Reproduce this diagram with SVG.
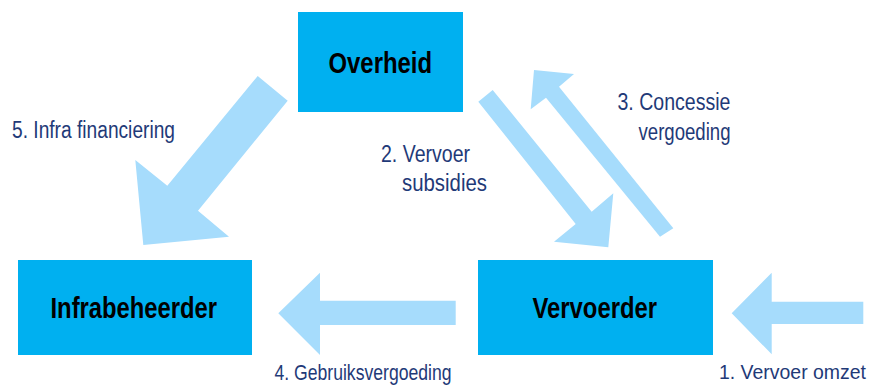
<svg xmlns="http://www.w3.org/2000/svg" width="872" height="385" viewBox="0 0 872 385">
<style>
.box{fill:#00B0F0}
.name{font-family:"Liberation Sans Narrow","Liberation Sans",Arial,sans-serif;font-weight:bold;font-size:29px;fill:#000}
.lbl{font-family:"Liberation Sans Narrow","Liberation Sans",Arial,sans-serif;font-size:23px;fill:#1F3A78}
.low{font-size:22px}
.arr{fill:#A6DCFC}
</style>
<rect width="872" height="385" fill="#fff"/>
<g id="connectors">
<polygon class="arr" points="257.7,76 287.7,100.7 198,210.7 229,236.7 143.3,245 135.3,160 167.3,185.7"/>
<polygon class="arr" points="478.3,101.7 492.7,90 591.7,211.7 613.3,193.3 608.3,247.3 554,241.7 575.7,224"/>
<polygon class="arr" points="673.3,228.3 660,236.7 546,97.7 530.7,109.3 534,70 574,74 559,86.7"/>
<polygon class="arr" points="278.3,313.3 320,272.7 320,300.7 455.7,300.7 455.7,325 320,325 320,355"/>
<polygon class="arr" points="731.7,313.3 771.7,272.7 771.7,301.7 863.3,301.7 863.3,324 771.7,324 771.7,354.3"/>
<text class="lbl" x="12" y="138" textLength="163" lengthAdjust="spacingAndGlyphs">5. Infra financiering</text>
<text class="lbl" x="381" y="161.5" textLength="89" lengthAdjust="spacingAndGlyphs">2. Vervoer</text>
<text class="lbl" x="402" y="191" textLength="85" lengthAdjust="spacingAndGlyphs">subsidies</text>
<text class="lbl" x="617.5" y="110" textLength="113" lengthAdjust="spacingAndGlyphs">3. Concessie</text>
<text class="lbl" x="638.5" y="140" textLength="92" lengthAdjust="spacingAndGlyphs">vergoeding</text>
<text class="lbl low" x="274.5" y="380" textLength="177" lengthAdjust="spacingAndGlyphs">4. Gebruiksvergoeding</text>
<text class="lbl" style="font-size:20px" x="719" y="379" textLength="147" lengthAdjust="spacingAndGlyphs">1. Vervoer omzet</text>
</g>
<g id="overheid">
<rect class="box" x="298" y="12" width="165" height="100"/>
<text class="name" x="328.5" y="73.3" textLength="103.5" lengthAdjust="spacingAndGlyphs">Overheid</text>
</g>
<g id="infrabeheerder">
<rect class="box" x="18" y="260" width="234" height="95"/>
<text class="name" x="50.5" y="318.3" textLength="166.5" lengthAdjust="spacingAndGlyphs">Infrabeheerder</text>
</g>
<g id="vervoerder">
<rect class="box" x="478" y="260" width="235" height="95"/>
<text class="name" x="532.5" y="318.3" textLength="124.5" lengthAdjust="spacingAndGlyphs">Vervoerder</text>
</g>
</svg>
